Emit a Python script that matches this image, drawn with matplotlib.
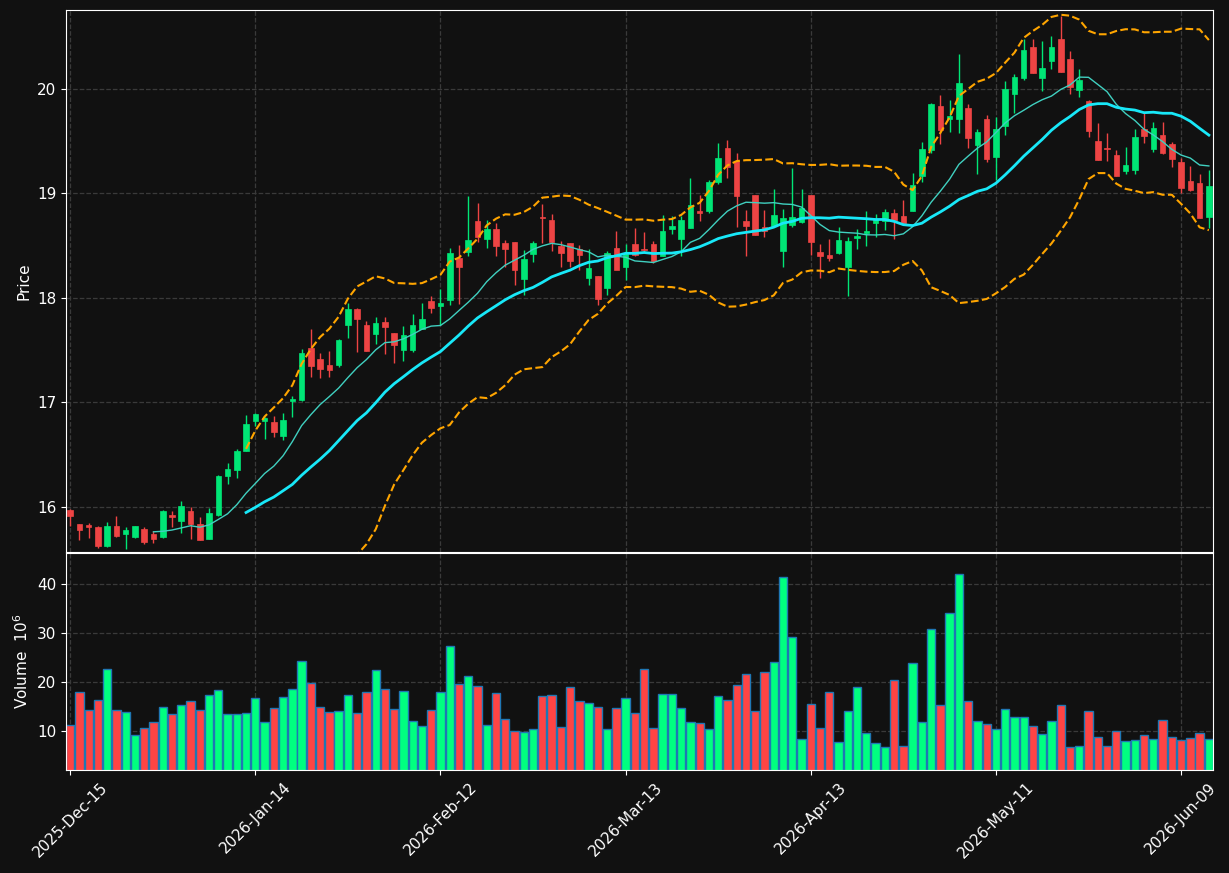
import numpy as np
import pandas as pd
import matplotlib
matplotlib.use("Agg")
import matplotlib.pyplot as plt

# daily OHLC (price) and volume (millions), one row per trading day
opens = [15.97, 15.84, 15.83, 15.81, 15.63, 15.82, 15.74, 15.71, 15.79, 15.74,
         15.71, 15.92, 15.87, 15.96, 15.84, 15.69, 15.92, 16.30, 16.35, 16.54,
         16.82, 16.82, 16.81, 16.68, 17.01, 17.02, 17.52, 17.41, 17.36, 17.36,
         17.74, 17.89, 17.74, 17.65, 17.77, 17.66, 17.50, 17.50, 17.70, 17.97,
         17.92, 17.98, 18.38, 18.44, 18.73, 18.56, 18.66, 18.52, 18.53, 18.18,
         18.42, 18.77, 18.74, 18.49, 18.52, 18.47, 18.19, 18.21, 18.09, 18.48,
         18.29, 18.51, 18.47, 18.51, 18.40, 18.66, 18.56, 18.67, 18.83, 18.83,
         19.11, 19.43, 19.31, 18.73, 18.98, 18.68, 18.69, 18.45, 18.70, 18.72,
         18.98, 18.44, 18.41, 18.43, 18.29, 18.57, 18.62, 18.71, 18.73, 18.81,
         18.78, 18.83, 19.16, 19.41, 19.83, 19.71, 19.71, 19.81, 19.46, 19.71,
         19.35, 19.64, 19.95, 20.10, 20.40, 20.10, 20.26, 20.47, 20.28, 19.99,
         19.88, 19.50, 19.43, 19.36, 19.21, 19.22, 19.61, 19.42, 19.56, 19.47,
         19.30, 19.12, 19.10, 18.77]
highs = [15.98, 15.84, 15.85, 15.82, 15.86, 15.91, 15.81, 15.82, 15.81, 15.77,
         15.97, 15.96, 16.06, 16.00, 15.90, 15.99, 16.31, 16.42, 16.55, 16.88,
         16.90, 16.86, 16.87, 16.90, 17.06, 17.51, 17.70, 17.47, 17.49, 17.61,
         17.95, 17.90, 17.78, 17.82, 17.82, 17.66, 17.73, 17.84, 17.95, 18.02,
         18.08, 18.48, 18.50, 18.97, 18.91, 18.74, 18.71, 18.55, 18.53, 18.46,
         18.54, 18.90, 18.80, 18.54, 18.52, 18.50, 18.47, 18.21, 18.45, 18.64,
         18.51, 18.67, 18.63, 18.54, 18.79, 18.78, 18.78, 19.14, 18.98, 19.13,
         19.48, 19.51, 19.38, 18.84, 18.98, 18.84, 19.04, 18.85, 19.24, 19.04,
         18.98, 18.51, 18.56, 18.68, 18.58, 18.66, 18.83, 18.80, 18.85, 18.85,
         18.93, 19.19, 19.49, 19.86, 19.94, 19.89, 20.33, 19.85, 19.61, 19.75,
         19.73, 20.07, 20.14, 20.47, 20.47, 20.45, 20.50, 20.69, 20.36, 20.19,
         19.89, 19.67, 19.57, 19.41, 19.44, 19.61, 19.77, 19.68, 19.68, 19.49,
         19.34, 19.26, 19.18, 19.22]
lows = [15.82, 15.68, 15.70, 15.61, 15.62, 15.71, 15.60, 15.70, 15.65, 15.66,
        15.70, 15.81, 15.75, 15.69, 15.68, 15.69, 15.91, 16.22, 16.28, 16.54,
        16.77, 16.65, 16.67, 16.64, 16.86, 17.01, 17.24, 17.23, 17.24, 17.34,
        17.62, 17.48, 17.49, 17.56, 17.46, 17.38, 17.40, 17.48, 17.70, 17.85,
        17.74, 17.93, 17.94, 18.40, 18.53, 18.48, 18.40, 18.29, 18.12, 18.03,
        18.34, 18.52, 18.45, 18.29, 18.29, 18.27, 18.12, 17.93, 18.03, 18.29,
        18.17, 18.40, 18.44, 18.33, 18.40, 18.61, 18.40, 18.67, 18.73, 18.81,
        19.09, 19.14, 18.68, 18.40, 18.60, 18.58, 18.69, 18.29, 18.68, 18.71,
        18.41, 18.19, 18.35, 18.42, 18.02, 18.47, 18.49, 18.58, 18.65, 18.56,
        18.71, 18.83, 19.11, 19.38, 19.47, 19.58, 19.57, 19.43, 19.18, 19.30,
        19.13, 19.56, 19.77, 20.08, 20.15, 19.98, 20.19, 20.16, 19.95, 19.92,
        19.54, 19.32, 19.31, 19.16, 19.18, 19.18, 19.48, 19.39, 19.37, 19.25,
        19.00, 19.02, 18.76, 18.67]
closes = [15.91, 15.78, 15.81, 15.63, 15.82, 15.72, 15.78, 15.82, 15.67, 15.69,
          15.96, 15.90, 16.01, 15.84, 15.68, 15.94, 16.30, 16.36, 16.54, 16.79,
          16.89, 16.85, 16.72, 16.83, 17.03, 17.47, 17.35, 17.32, 17.31, 17.60,
          17.89, 17.80, 17.49, 17.76, 17.72, 17.55, 17.64, 17.74, 17.80, 17.90,
          17.95, 18.43, 18.29, 18.55, 18.58, 18.66, 18.49, 18.47, 18.27, 18.37,
          18.52, 18.76, 18.53, 18.43, 18.35, 18.41, 18.28, 17.99, 18.43, 18.27,
          18.42, 18.41, 18.46, 18.35, 18.64, 18.69, 18.74, 18.89, 18.81, 19.11,
          19.34, 19.25, 18.97, 18.69, 18.60, 18.64, 18.79, 18.76, 18.77, 18.86,
          18.53, 18.40, 18.38, 18.55, 18.54, 18.59, 18.64, 18.74, 18.82, 18.74,
          18.71, 19.08, 19.42, 19.85, 19.60, 19.74, 20.05, 19.53, 19.58, 19.33,
          19.61, 20.00, 20.11, 20.37, 20.15, 20.20, 20.40, 20.16, 20.01, 20.08,
          19.59, 19.32, 19.42, 19.16, 19.27, 19.54, 19.55, 19.62, 19.38, 19.33,
          19.05, 19.03, 18.76, 19.07]
volumes = [11.2, 18.0, 14.3, 16.3, 22.6, 14.3, 13.8, 9.2, 10.6, 11.8,
           14.9, 13.5, 15.3, 16.1, 14.3, 17.4, 18.4, 13.4, 13.4, 13.7,
           16.7, 11.8, 14.7, 16.9, 18.6, 24.3, 19.8, 14.9, 13.9, 14.1,
           17.4, 13.7, 18.0, 22.4, 18.6, 14.5, 18.2, 12.0, 11.0, 14.3,
           18.0, 27.3, 19.6, 21.2, 19.2, 11.2, 17.8, 12.4, 10.0, 9.8,
           10.4, 17.1, 17.4, 10.8, 19.0, 16.1, 15.7, 14.9, 10.4, 14.7,
           16.7, 13.7, 22.6, 10.6, 17.5, 17.5, 14.7, 11.8, 11.6, 10.4,
           17.1, 16.3, 19.4, 21.6, 14.1, 22.0, 24.1, 41.6, 29.2, 8.4,
           15.5, 10.6, 18.0, 7.8, 14.1, 19.0, 9.6, 7.5, 6.7, 20.4,
           6.9, 23.9, 11.8, 30.8, 15.3, 34.1, 42.2, 16.1, 12.0, 11.4,
           10.4, 14.5, 12.9, 12.9, 11.0, 9.4, 12.0, 15.3, 6.7, 6.9,
           14.1, 8.8, 6.9, 10.0, 8.0, 8.2, 9.2, 8.4, 12.2, 8.8,
           8.2, 8.6, 9.6, 8.4]

tick_pos = [0, 20, 40, 60, 80, 100, 120]
tick_labels = ['2025-Dec-15', '2026-Jan-14', '2026-Feb-12', '2026-Mar-13',
               '2026-Apr-13', '2026-May-11', '2026-Jun-09']

bg = '#111111'
up_c, dn_c = '#00e676', '#ee4444'
upv_c, dnv_c = '#00ff80', '#ff4444'

df = pd.DataFrame({'o': opens, 'h': highs, 'l': lows, 'c': closes, 'v': volumes})
x = np.arange(len(df))
up = df['c'] >= df['o']

ma10 = df['c'].rolling(10).mean()
ma20 = df['c'].rolling(20).mean()
sd20 = df['c'].rolling(20).std(ddof=0)

fig = plt.figure(figsize=(12.29, 8.73), dpi=100, facecolor=bg)
ax = fig.add_axes([0.0537, 0.3677, 0.9333, 0.6208])
axv = fig.add_axes([0.0537, 0.118, 0.9333, 0.2486], sharex=ax)

for a in (ax, axv):
    a.set_facecolor(bg)
    a.grid(True, color='#3a3a3a', linestyle='--', linewidth=0.9)
    a.set_axisbelow(True)
    for s in a.spines.values():
        s.set_color('white')
    a.tick_params(colors='white', labelsize=11)

# candles
cols = np.where(up, up_c, dn_c)
ax.vlines(x, df['l'], df['h'], colors=cols, linewidth=1)
body_lo = np.minimum(df['o'], df['c'])
body_h = np.maximum((df['c'] - df['o']).abs(), 0.01)
ax.bar(x, body_h, 0.6, bottom=body_lo, color=cols, edgecolor=cols, linewidth=0.5)

ax.plot(x, ma10, color='#40d0c0', linewidth=1)
ax.plot(x, ma20, color='#18e8f8', linewidth=2)
ax.plot(x, ma20 + 2 * sd20, color='orange', linestyle='--', linewidth=1.5)
ax.plot(x, ma20 - 2 * sd20, color='orange', linestyle='--', linewidth=1.5)

ax.set_ylim(15.57, 20.75)
ax.set_xlim(-0.45, len(df) - 0.55)
ax.set_ylabel('Price', color='white', fontsize=11)
ax.tick_params(axis='x', labelbottom=False, length=0)

vcols = np.where(up, upv_c, dnv_c)
axv.bar(x, df['v'], 0.9, color=vcols, edgecolor='#1f77b4', linewidth=1)
axv.set_ylim(0.3 * df['v'].min(), 1.1 * df['v'].max())
axv.set_yticks([10, 20, 30, 40])
axv.set_ylabel('Volume  $10^{6}$', color='white', fontsize=11)
axv.set_xticks(tick_pos)
axv.set_xticklabels(tick_labels, rotation=45, ha='center')

fig.savefig('out.png', dpi=100, facecolor=bg)
